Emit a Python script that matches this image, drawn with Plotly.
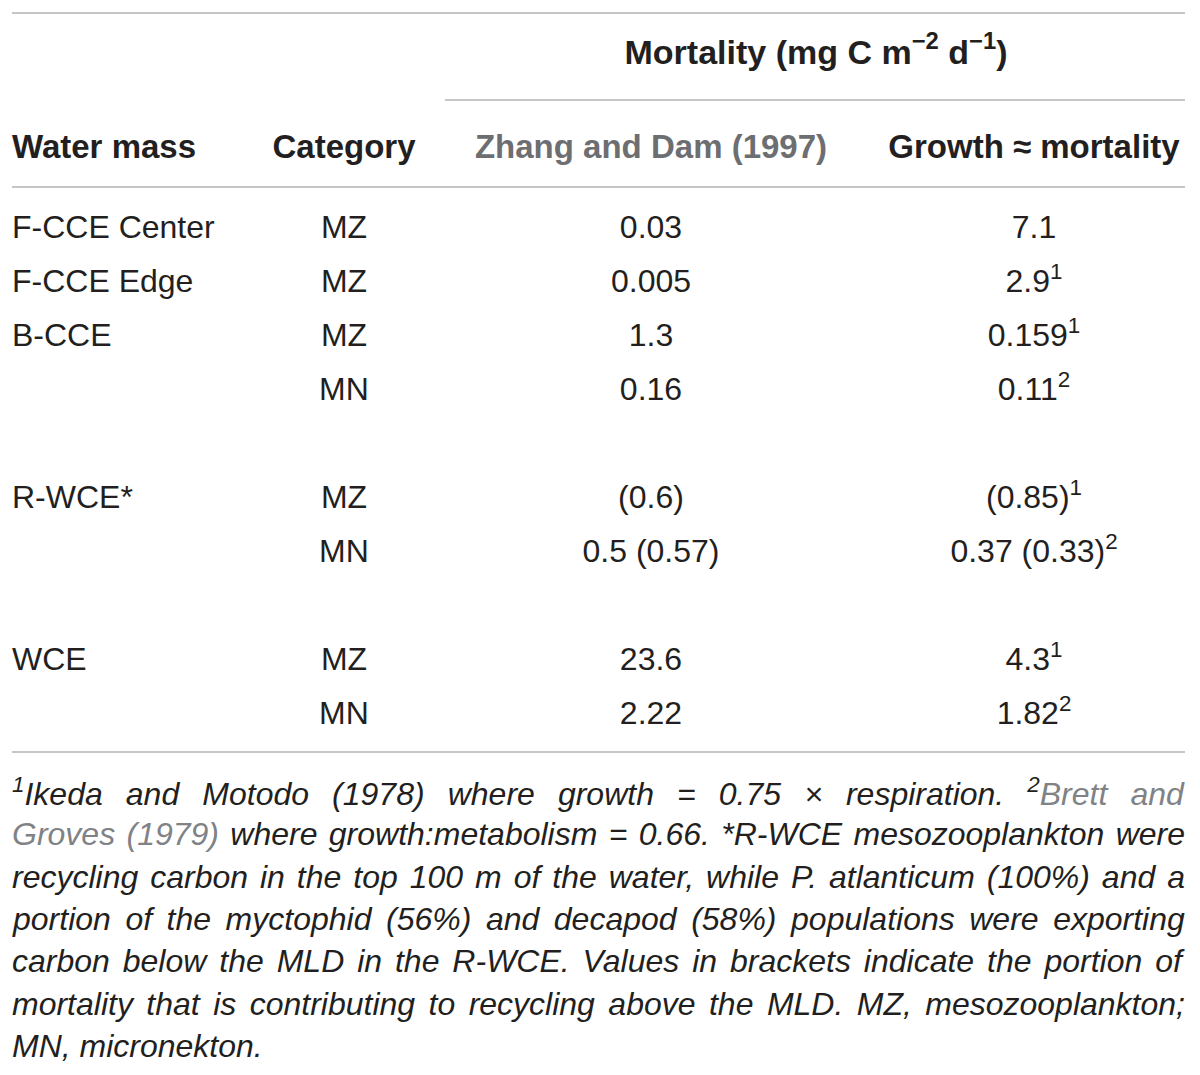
import plotly.graph_objects as go

# table data
water_mass = ["F-CCE Center", "F-CCE Edge", "B-CCE", "", "R-WCE*", "", "WCE", ""]
category = ["MZ", "MZ", "MZ", "MN", "MZ", "MN", "MZ", "MN"]
group = [0, 0, 0, 0, 1, 1, 2, 2]

# Zhang and Dam (1997): total and (recycling part)
zhang_total = [0.03, 0.005, 1.3, 0.16, None, 0.5, 23.6, 2.22]
zhang_recyc = [None, None, None, None, 0.6, 0.57, None, None]

# Growth ~ mortality: total, (recycling part), footnote number
growth_total = [7.1, 2.9, 0.159, 0.11, None, 0.37, 4.3, 1.82]
growth_recyc = [None, None, None, None, 0.85, 0.33, None, None]
growth_note = [None, 1, 1, 2, 1, 2, 1, 2]

headers = ["Water mass", "Category", "Zhang and Dam (1997)", "Growth \u2248 mortality"]
span_header = "Mortality (mg C m<sup>\u22122</sup> d<sup>\u22121</sup>)"

footnote = [
    "<sup>1</sup>Ikeda and Motodo (1978) where growth = 0.75 \u00d7 respiration. <sup>2</sup><span style='color:#808285'>Brett and</span>",
    "<span style='color:#808285'>Groves (1979)</span> where growth:metabolism = 0.66. *R-WCE mesozooplankton were",
    "recycling carbon in the top 100 m of the water, while P. atlanticum (100%) and a",
    "portion of the myctophid (56%) and decapod (58%) populations were exporting",
    "carbon below the MLD in the R-WCE. Values in brackets indicate the portion of",
    "mortality that is contributing to recycling above the MLD. MZ, mesozooplankton;",
    "MN, micronekton.",
]

INK = "#231f20"
GREY = "#6d6e71"
RULE = "#c6c6c6"
FONT = "Liberation Sans, Arial, Helvetica, sans-serif"


def fmt(total, recyc, note=None):
    parts = []
    if total is not None:
        parts.append(f"{total:g}")
    if recyc is not None:
        parts.append(f"({recyc:g})")
    s = " ".join(parts)
    if note:
        s += f"<sup>{note}</sup>"
    return s


zhang_txt = [fmt(t, r) for t, r in zip(zhang_total, zhang_recyc)]
growth_txt = [fmt(t, r, n) for t, r, n in zip(growth_total, growth_recyc, growth_note)]

row_y = [230 + 54 * (i + g) for i, g in enumerate(group)]

col_left = 12
col_x = [344, 651, 1034]

fig = go.Figure()

# first column only where there is a name
wm_y = [y for y, w in zip(row_y, water_mass) if w]
wm_txt = [w for w in water_mass if w]
fig.add_trace(go.Scatter(x=[col_left] * len(wm_y), y=wm_y, mode="text",
                         text=wm_txt, textposition="middle right",
                         textfont=dict(family=FONT, size=32, color=INK),
                         hoverinfo="skip"))
for cx, vals in zip(col_x, [category, zhang_txt, growth_txt]):
    fig.add_trace(go.Scatter(x=[cx] * len(row_y), y=row_y, mode="text",
                             text=vals, textposition="middle center",
                             textfont=dict(family=FONT, size=32, color=INK),
                             hoverinfo="skip"))

# header rows
fig.add_trace(go.Scatter(x=[col_left], y=[150], mode="text",
                         text=["<b>" + headers[0] + "</b>"], textposition="middle right",
                         textfont=dict(family=FONT, size=33, color=INK),
                         hoverinfo="skip"))
fig.add_trace(go.Scatter(x=col_x, y=[150] * 3, mode="text",
                         text=["<b>" + h + "</b>" for h in headers[1:]],
                         textposition="middle center",
                         textfont=dict(family=FONT, size=33, color=[INK, GREY, INK]),
                         hoverinfo="skip"))
fig.add_trace(go.Scatter(x=[816], y=[55], mode="text",
                         text=["<b>" + span_header + "</b>"], textposition="middle center",
                         textfont=dict(family=FONT, size=34, color=INK),
                         hoverinfo="skip"))

# rules
for y0, x0 in [(13, 12), (100, 445), (187, 12), (752, 12)]:
    fig.add_shape(type="line", x0=x0, x1=1185, y0=y0, y1=y0,
                  line=dict(color=RULE, width=2), xref="x", yref="y")

# footnote
for k, line in enumerate(footnote):
    fig.add_annotation(x=10, y=792 + 42.3 * k, xref="x", yref="y",
                       text="<i>" + line + "</i>", showarrow=False,
                       xanchor="left", yanchor="middle", align="left",
                       font=dict(family=FONT, size=32, color=INK))

fig.update_xaxes(range=[0, 1200], visible=False, fixedrange=True)
fig.update_yaxes(range=[1075, 0], visible=False, fixedrange=True)
fig.update_layout(width=1200, height=1075, margin=dict(l=0, r=0, t=0, b=0),
                  paper_bgcolor="white", plot_bgcolor="white", showlegend=False)

# no page margin, and justify the footnote lines (all but the last) to the table width
js = """
document.body.style.margin = '0';
var lines = document.querySelectorAll('.annotation-text');
for (var i = 0; i < lines.length - 1; i++) {
  var t = lines[i];
  var gaps = (t.textContent.match(/ /g) || []).length;
  var w = t.getBBox().width;
  if (gaps > 0 && w < 1173) {
    t.style.wordSpacing = ((1173 - w) / gaps) + 'px';
  }
}
"""
fig.write_html("out.html", config={"staticPlot": True}, post_script=js)
